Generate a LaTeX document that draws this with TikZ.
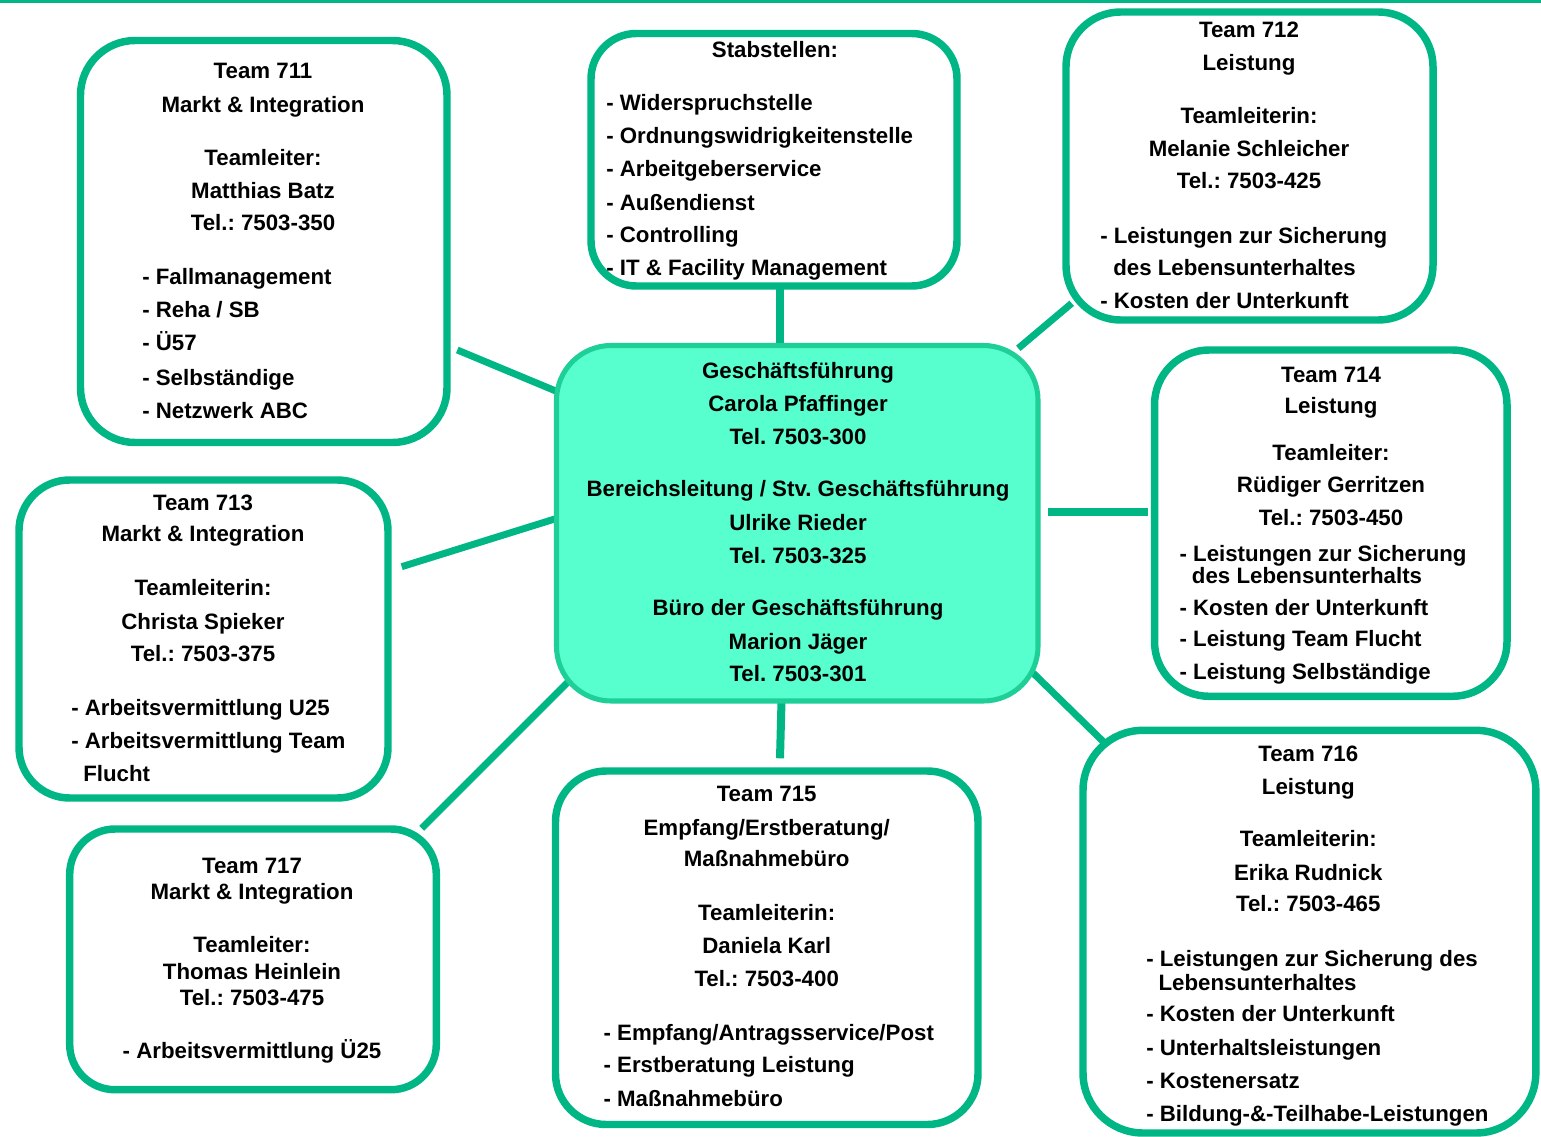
\documentclass[tikz,border=0pt]{standalone}
\usepackage{fontspec}
\setmainfont{Liberation Sans}
\usetikzlibrary{fit,backgrounds}
\frenchspacing
\definecolor{lgreen}{RGB}{0,182,133}
\definecolor{cfill}{RGB}{87,255,206}
\definecolor{cborder}{RGB}{30,208,152}
\newcounter{lnum}
\newcommand\linec[3]{\stepcounter{lnum}\node[txt,anchor=base] (ln\arabic{lnum}) at (#1,#2) {#3};}
\newcommand\linel[3]{\stepcounter{lnum}\node[txt,anchor=base west] (ln\arabic{lnum}) at (#1,#2) {#3};}
\begin{document}
\begin{tikzpicture}[x=0.75pt,y=-0.75pt,
  txt/.style={inner sep=0pt,font=\fontsize{16.7}{20}\selectfont\bfseries\frenchspacing},
  teambox/.style={draw=lgreen,line width=5.6pt,fill=white,inner sep=0pt},
  centerbox/.style={draw=cborder,line width=3.8pt,fill=cfill,inner sep=0pt,rounded corners=41pt},
  conn/.style={draw=lgreen,line width=5.2pt},
  connthick/.style={draw=lgreen,line width=6pt}]
\useasboundingbox (0,0) rectangle (1541,1137);

% boxes
\node[teambox,rounded corners=41pt,fit={(80.5,40.5)(447,442.5)}] (t711) {};
\node[teambox,rounded corners=34pt,fit={(591,33.5)(957,286)}] (stab) {};
\node[teambox,rounded corners=41pt,fit={(1066,12)(1433,320)}] (t712) {};
\node[centerbox,fit={(556.5,345.5)(1038,701)}] (ctr) {};
\node[teambox,rounded corners=38pt,fit={(19,480)(388,798)}] (t713) {};
\node[teambox,rounded corners=34pt,fit={(69.7,829)(436.3,1089.7)}] (t717) {};
\node[teambox,rounded corners=38pt,fit={(555.5,771)(978,1124.5)}] (t715) {};
\node[teambox,rounded corners=41pt,fit={(1154.5,350)(1507,696.3)}] (t714) {};
\node[teambox,rounded corners=45pt,fit={(1083,730.3)(1535.8,1133)}] (t716) {};

% connectors
\coordinate (topl) at (0,1.2);
\coordinate (topr) at (1541,1.2);
\coordinate (a711) at (457.3,350);
\coordinate (b711) at (557,391.5);
\coordinate (a713) at (401.7,566.7);
\coordinate (b713) at (557,518.3);
\coordinate (a717) at (421.7,828.3);
\coordinate (b717) at (572,678);
\coordinate (a712) at (1071.7,303.3);
\coordinate (b712) at (1018.3,348.3);
\coordinate (a716) at (1105,743.3);
\coordinate (b716) at (1030,670);
\coordinate (a714) at (1147.7,511.7);
\coordinate (b714) at (1047.7,511.7);
\coordinate (a715) at (780,758.3);
\coordinate (b715) at (781.5,701);
\coordinate (astab) at (780,288);
\coordinate (bstab) at (780,345);
\begin{scope}[on background layer]
\fill[white] (0,0) rectangle (1541,1137);
\draw[draw=lgreen,line width=2pt] (topl) -- (topr);
\draw[conn] (a711) -- (b711);
\draw[conn] (a713) -- (b713);
\draw[conn] (a717) -- (b717);
\draw[conn] (a712) -- (b712);
\draw[conn] (a716) -- (b716);
\draw[connthick] (a714) -- (b714);
\draw[connthick] (a715) -- (b715);
\draw[connthick] (astab) -- (bstab);
\end{scope}

% Team 711
\linec{263}{79}{Team 711}
\linec{263}{113}{Markt \& Integration}
\linec{263}{166}{Teamleiter:}
\linec{263}{199}{Matthias Batz}
\linec{263}{231}{Tel.: 7503-350}
\linel{142}{285}{- Fallmanagement}
\linel{142}{318}{- Reha / SB}
\linel{142}{351}{- Ü57}
\linel{142}{385}{- Selbständige}
\linel{142}{418}{- Netzwerk ABC}

% Stabstellen
\linec{775}{58}{Stabstellen:}
\linel{606}{110.7}{- Widerspruchstelle}
\linel{606}{144}{- Ordnungswidrigkeitenstelle}
\linel{606}{176.7}{- Arbeitgeberservice}
\linel{606}{210.7}{- Außendienst}
\linel{606}{242.7}{- Controlling}
\linel{606}{276}{- IT \& Facility Management}

% Team 712
\linec{1249}{37.7}{Team 712}
\linec{1249}{70.7}{Leistung}
\linec{1249}{123.3}{Teamleiterin:}
\linec{1249}{156.7}{Melanie Schleicher}
\linec{1249}{189}{Tel.: 7503-425}
\linel{1100}{243.3}{- Leistungen zur Sicherung}
\linel{1113}{275.7}{des Lebensunterhaltes}
\linel{1100}{309}{- Kosten der Unterkunft}

% Center
\linec{798}{378.3}{Geschäftsführung}
\linec{798}{411}{Carola Pfaffinger}
\linec{798}{444.3}{Tel. 7503-300}
\linec{798}{496.7}{Bereichsleitung / Stv. Geschäftsführung}
\linec{798}{530}{Ulrike Rieder}
\linec{798}{563.3}{Tel. 7503-325}
\linec{798}{615.7}{Büro der Geschäftsführung}
\linec{798}{649.3}{Marion Jäger}
\linec{798}{681.7}{Tel. 7503-301}

% Team 713
\linec{203}{510}{Team 713}
\linec{203}{541.7}{Markt \& Integration}
\linec{203}{595}{Teamleiterin:}
\linec{203}{629.3}{Christa Spieker}
\linec{203}{661}{Tel.: 7503-375}
\linel{71}{715.7}{- Arbeitsvermittlung U25}
\linel{71}{748.3}{- Arbeitsvermittlung Team}
\linel{83}{781.7}{Flucht}

% Team 717
\linec{252}{873.3}{Team 717}
\linec{252}{899.3}{Markt \& Integration}
\linec{252}{952.7}{Teamleiter:}
\linec{252}{979.3}{Thomas Heinlein}
\linec{252}{1005}{Tel.: 7503-475}
\linec{252}{1058.3}{- Arbeitsvermittlung Ü25}

% Team 715
\linec{766.7}{801}{Team 715}
\linec{766.7}{835}{Empfang/Erstberatung/}
\linec{766.7}{866.7}{Maßnahmebüro}
\linec{766.7}{920}{Teamleiterin:}
\linec{766.7}{953.3}{Daniela Karl}
\linec{766.7}{986.7}{Tel.: 7503-400}
\linel{603.3}{1040}{- Empfang/Antragsservice/Post}
\linel{603.3}{1072.7}{- Erstberatung Leistung}
\linel{603.3}{1106}{- Maßnahmebüro}

% Team 714
\linec{1331}{382.7}{Team 714}
\linec{1331}{413.3}{Leistung}
\linec{1331}{460.7}{Teamleiter:}
\linec{1331}{492.7}{Rüdiger Gerritzen}
\linec{1331}{525}{Tel.: 7503-450}
\linel{1179.3}{561.7}{- Leistungen zur Sicherung}
\linel{1191.7}{583.3}{des Lebensunterhalts}
\linel{1179.3}{615}{- Kosten der Unterkunft}
\linel{1179.3}{646.7}{- Leistung Team Flucht}
\linel{1179.3}{679.3}{- Leistung Selbständige}

% Team 716
\linec{1308.3}{761.7}{Team 716}
\linec{1308.3}{794.3}{Leistung}
\linec{1308.3}{846.7}{Teamleiterin:}
\linec{1308.3}{880}{Erika Rudnick}
\linec{1308.3}{911.7}{Tel.: 7503-465}
\linel{1146}{966.7}{- Leistungen zur Sicherung des}
\linel{1158.3}{990}{Lebensunterhaltes}
\linel{1146}{1021.7}{- Kosten der Unterkunft}
\linel{1146}{1055}{- Unterhaltsleistungen}
\linel{1146}{1088.3}{- Kostenersatz}
\linel{1146}{1121.7}{- Bildung-\&-Teilhabe-Leistungen}
\end{tikzpicture}
\end{document}
